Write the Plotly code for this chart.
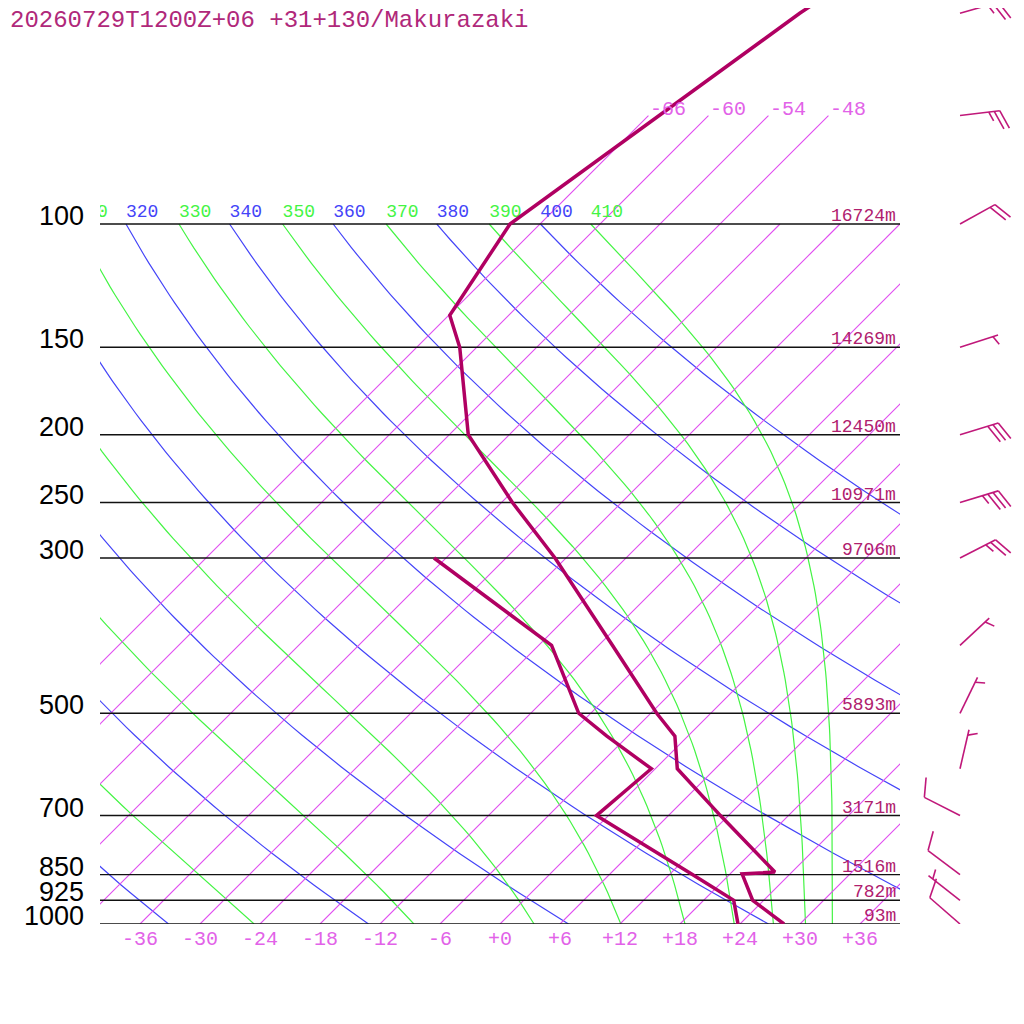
import numpy as np
import plotly.graph_objects as go

TITLE = "20260729T1200Z+06 +31+130/Makurazaki"

# sounding (hPa, degC)
temp_p = [1000, 925, 848, 843, 700, 600, 539, 500, 400, 300, 250, 200, 150, 135, 100, 50, 40]
temp_c = [28.4, 22.9, 19.2, 22.3, 11.2, 2.2, -1.3, -5.4, -16.6, -31.1, -40.9, -52.1, -61.7, -65.9, -69.0, -61.1, -57.7]
dwpt_p = [1000, 925, 850, 700, 600, 539, 500, 400, 300]
dwpt_c = [23.8, 21.0, 14.3, -1.2, -0.4, -8.1, -13.2, -22.7, -43.2]

# standard levels with geopotential heights (m)
level_p = [1000, 925, 850, 700, 500, 300, 250, 200, 150, 100]
level_hgt = [93, 782, 1516, 3171, 5893, 9706, 10971, 12450, 14269, 16724]

# winds (hPa, direction deg, speed kt)
wind_p = [1000, 925, 850, 700, 600, 500, 400, 300, 250, 200, 150, 100, 70, 50]
wind_dir = [311, 308, 307, 297, 13, 26, 47, 63, 73, 73, 72, 61, 83, 74]
wind_kt = [10, 5, 10, 10, 5, 5, 5, 25, 35, 30, 5, 20, 25, 25]

# diagram furniture
temp_ticks = [-36, -30, -24, -18, -12, -6, 0, 6, 12, 18, 24, 30, 36]
isotherms = [-66, -60, -54, -48, -42, -36, -30, -24, -18, -12, -6, 0, 6, 12, 18, 24, 30, 36]
iso_labeled = [-66, -60, -54, -48]
dry_theta = [240, 260, 280, 300, 320, 340, 360, 380, 400]
moist_thetae = [250, 270, 290, 310, 330, 350, 370, 390, 410]

SKEW = 70.0          # degC of skew per decade of pressure
PX_PER_DEC = 700.0   # vertical pixels per decade
PAGE = 8             # body margin of the page the figure sits in
PLOT_H = 924 - PAGE

C_SND = "#b00062"
C_ISO = "#e04cf0"
C_ISO_TXT = "#e262e8"
C_DRY = "#4444f8"
C_MOIST = "#44f444"
C_HGT = "#b0206e"
MONO = "Liberation Mono"


def skew_x(t, p):
    return np.asarray(t, float) + SKEW * np.log10(1000.0 / np.asarray(p, float))


def thetae_sat(t_c, p):
    tk = t_c + 273.15
    es = 6.112 * np.exp(17.67 * t_c / (t_c + 243.5))
    r = 0.622 * es / (p - es)
    rg = r * 1000
    return tk * (1000 / p) ** (0.2854 * (1 - 0.28 * r)) * np.exp(
        (3.376 / tk - 0.00254) * rg * (1 + 0.81e-3 * rg))


def moist_temp(te, p):
    lo = np.full_like(p, -140.0)
    hi = np.full_like(p, 40.0)
    with np.errstate(all="ignore"):
        for _ in range(60):
            mid = 0.5 * (lo + hi)
            up = thetae_sat(mid, p) > te
            hi = np.where(up, mid, hi)
            lo = np.where(up, lo, mid)
    return 0.5 * (lo + hi)


def joined(curves):
    xs, ys = [], []
    for cx, cy in curves:
        xs += [float(v) for v in cx] + [None]
        ys += [float(v) for v in cy] + [None]
    return xs, ys


fig = go.Figure()

# dry and moist adiabats
pp = np.geomspace(1000, 100, 90)
xs, ys = joined([(skew_x(th * (pp / 1000) ** 0.2857 - 273.15, pp), pp) for th in dry_theta])
fig.add_trace(go.Scatter(x=xs, y=ys, mode="lines", line=dict(color=C_DRY, width=1.2),
                         hoverinfo="skip"))
xs, ys = joined([(skew_x(moist_temp(te, pp), pp), pp) for te in moist_thetae])
fig.add_trace(go.Scatter(x=xs, y=ys, mode="lines", line=dict(color=C_MOIST, width=1.2),
                         hoverinfo="skip"))

# isotherms, one trace each
for t in isotherms:
    top = 70 if t in iso_labeled else 100
    fig.add_trace(go.Scatter(x=[float(v) for v in skew_x([t, t], [1000, top])],
                             y=[1000, top], mode="lines",
                             line=dict(color=C_ISO, width=1.1), hoverinfo="skip"))

# theta labels just above 100 hPa (only those reaching into the plot)
lab_t, lab_x, lab_c = [], [], []
for th in dry_theta:
    x = float(skew_x(th * 0.1 ** 0.2857 - 273.15, 100))
    if x > -44:
        lab_t.append(str(th)); lab_x.append(x); lab_c.append(C_DRY)
for te in moist_thetae:
    x = float(skew_x(moist_temp(te, np.array([100.0]))[0], 100))
    if x > -44:
        lab_t.append(str(te)); lab_x.append(x); lab_c.append(C_MOIST)
fig.add_trace(go.Scatter(x=lab_x, y=[100 * 10 ** (-3 / PX_PER_DEC)] * len(lab_x), mode="text",
                         text=lab_t, textposition="top right",
                         textfont=dict(family=MONO, size=18, color=lab_c),
                         cliponaxis=True, hoverinfo="skip"))

# pressure lines
xs, ys = joined([([-40, 40], [p, p]) for p in level_p])
fig.add_trace(go.Scatter(x=xs, y=ys, mode="lines", line=dict(color="#111111", width=1.4),
                         hoverinfo="skip"))

# sounding
fig.add_trace(go.Scatter(x=skew_x(dwpt_c, dwpt_p), y=dwpt_p, mode="lines",
                         line=dict(color=C_SND, width=3.5), hoverinfo="skip"))
fig.add_trace(go.Scatter(x=skew_x(temp_c, temp_p), y=temp_p, mode="lines",
                         line=dict(color=C_SND, width=3.5), hoverinfo="skip"))

# wind barbs, drawn in pixel units on a side axis
STN_X, STAFF, FULL, HALF, GAP = 960, 40, 20, 10, 5.5
tilt = np.radians(68)
segs_all = []
for p, d, s in zip(wind_p, wind_dir, wind_kt):
    a = np.radians(d)
    ux, uy = np.sin(a), -np.cos(a)
    fx = ux * np.cos(tilt) - uy * np.sin(tilt)
    fy = ux * np.sin(tilt) + uy * np.cos(tilt)
    segs = [((0, 0), (STAFF * ux, STAFF * uy))]
    k = 0
    for _ in range(s // 10):
        sx, sy = (STAFF - k * GAP) * ux, (STAFF - k * GAP) * uy
        segs.append(((sx, sy), (sx + FULL * fx, sy + FULL * fy)))
        k += 1
    if s % 10 >= 5:
        k = max(k, 1)
        sx, sy = (STAFF - k * GAP) * ux, (STAFF - k * GAP) * uy
        segs.append(((sx, sy), (sx + HALF * fx, sy + HALF * fy)))
    for (x0, y0), (x1, y1) in segs:
        segs_all.append(([STN_X + x0, STN_X + x1],
                         [p * 10 ** (y0 / PX_PER_DEC), p * 10 ** (y1 / PX_PER_DEC)]))
bx, by = joined(segs_all)
fig.add_trace(go.Scatter(x=bx, y=by, xaxis="x2", yaxis="y", mode="lines",
                         line=dict(color="#c0187a", width=1.6), hoverinfo="skip"))

ann = []
for p in level_p:
    ann.append(dict(xref="paper", x=(86 - PAGE) / 1024, xanchor="right", yref="y",
                    y=np.log10(p), yshift=8, text=str(p), showarrow=False,
                    font=dict(family="Liberation Sans", size=27, color="black")))
for p, h in zip(level_p, level_hgt):
    ann.append(dict(xref="paper", x=(898 - PAGE) / 1024, xanchor="right", yref="y",
                    y=np.log10(p), yshift=8, text=f"{h}m", showarrow=False,
                    font=dict(family=MONO, size=18, color=C_HGT)))
for t in iso_labeled:
    ann.append(dict(xref="x", x=float(skew_x(t, 70)), xanchor="left", yref="y",
                    y=np.log10(70), yshift=6, text=str(t), showarrow=False,
                    font=dict(family=MONO, size=20, color=C_ISO_TXT)))
ann.append(dict(xref="paper", x=0, xanchor="left", yref="paper", y=1 - (20 - PAGE) / 1024,
                yanchor="middle", text=TITLE, showarrow=False,
                font=dict(family=MONO, size=24, color="#b0287a")))

fig.update_layout(
    width=1024, height=1024,
    margin=dict(l=0, r=0, t=0, b=0),
    paper_bgcolor="white", plot_bgcolor="white",
    showlegend=False,
    annotations=ann,
    xaxis=dict(domain=[(100 - PAGE) / 1024, (900 - PAGE) / 1024], range=[-40, 40],
               showgrid=False, zeroline=False, showline=False, ticks="",
               tickvals=temp_ticks,
               ticktext=[f"{t:+d}" if t != 0 else "+0" for t in temp_ticks],
               tickfont=dict(family=MONO, size=20, color=C_ISO_TXT)),
    yaxis=dict(domain=[1 - PLOT_H / 1024, 1], type="log",
               range=[3, 3 - PLOT_H / PX_PER_DEC],
               showgrid=False, zeroline=False, showline=False, showticklabels=False,
               ticks=""),
    xaxis2=dict(domain=[(900 - PAGE) / 1024, 1], range=[900, 900 + 124 + PAGE],
                visible=False, anchor="y"),
)

fig.write_html("out.html")
